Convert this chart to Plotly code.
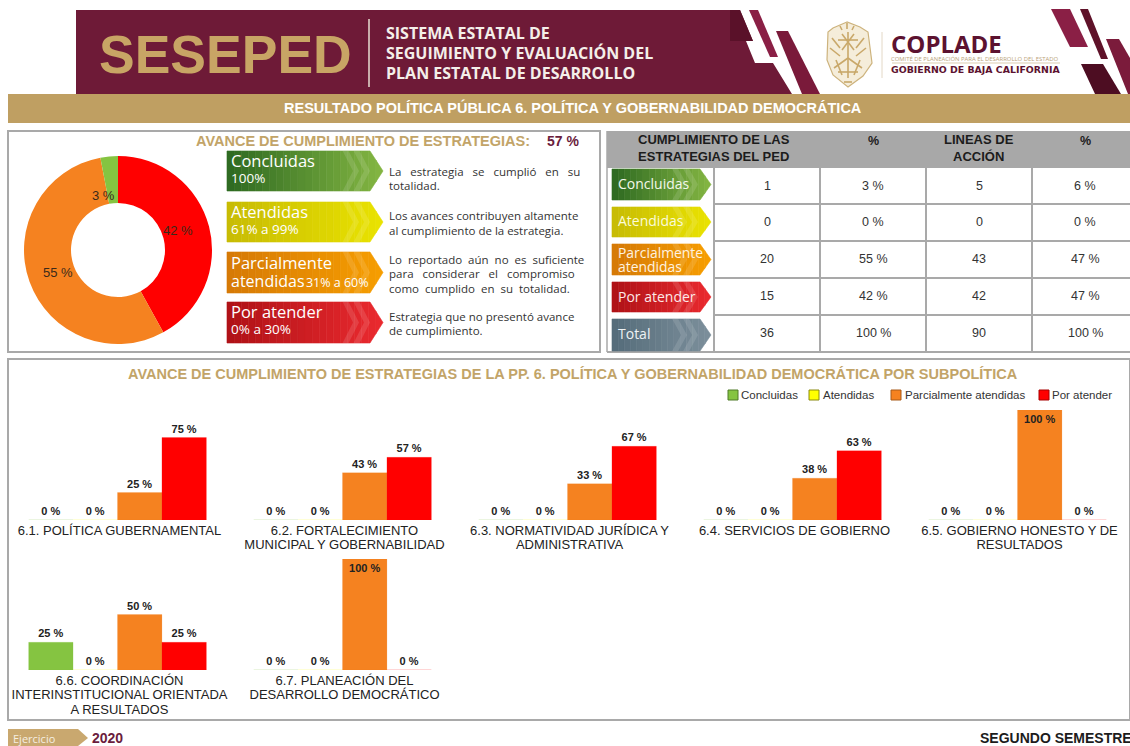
import plotly.graph_objects as go

W, H = 1130, 746

# ---------- data ----------
estado = ["Concluidas", "Atendidas", "Parcialmente atendidas", "Por atender"]
colores = ["#85c441", "#ffff00", "#f58220", "#ff0000"]
bordes = ["#4f7a28", "#8a8a10", "#a85a18", "#a80000"]

donut_labels = ["Por atender", "Parcialmente atendidas", "Concluidas"]
donut_values = [42, 55, 3]
donut_colors = ["#ff0000", "#f58220", "#85c441"]

sub_fila1 = ["6.1. POLÍTICA GUBERNAMENTAL",
             "6.2. FORTALECIMIENTO<br>MUNICIPAL Y GOBERNABILIDAD",
             "6.3. NORMATIVIDAD JURÍDICA Y<br>ADMINISTRATIVA",
             "6.4. SERVICIOS DE GOBIERNO",
             "6.5. GOBIERNO HONESTO Y DE<br>RESULTADOS"]
concluidas_1 = [0, 0, 0, 0, 0]
atendidas_1 = [0, 0, 0, 0, 0]
parciales_1 = [25, 43, 33, 38, 100]
por_atender_1 = [75, 57, 67, 63, 0]

sub_fila2 = ["6.6. COORDINACIÓN<br>INTERINSTITUCIONAL ORIENTADA<br>A RESULTADOS",
             "6.7. PLANEACIÓN DEL<br>DESARROLLO DEMOCRÁTICO"]
concluidas_2 = [25, 0]
atendidas_2 = [0, 0]
parciales_2 = [50, 100]
por_atender_2 = [25, 0]

tabla_estrategias = ["1", "0", "20", "15", "36"]
tabla_pct_estrategias = ["3 %", "0 %", "55 %", "42 %", "100 %"]
tabla_lineas = ["5", "0", "43", "42", "90"]
tabla_pct_lineas = ["6 %", "0 %", "47 %", "47 %", "100 %"]

# ---------- helpers ----------
def px(x): return x / W
def py(y): return 1 - y / H

shapes, annots = [], []

def poly(pts, fill, line=None, lw=0, opacity=1):
    d = "M " + " L ".join(f"{px(a):.5f},{py(b):.5f}" for a, b in pts) + " Z"
    shapes.append(dict(type="path", path=d, xref="paper", yref="paper", fillcolor=fill,
                       opacity=opacity, layer="below",
                       line=dict(color=line or fill, width=lw)))

def rect(x0, y0, x1, y1, fill="rgba(0,0,0,0)", line=None, lw=0):
    shapes.append(dict(type="rect", xref="paper", yref="paper", x0=px(x0), x1=px(x1),
                       y0=py(y1), y1=py(y0), fillcolor=fill, layer="below",
                       line=dict(color=line or "rgba(0,0,0,0)", width=lw)))

def seg(x0, y0, x1, y1, color, lw):
    shapes.append(dict(type="line", xref="paper", yref="paper", x0=px(x0), x1=px(x1),
                       y0=py(y0), y1=py(y1), layer="below", line=dict(color=color, width=lw)))

def T(x, y, text, size=12, color="#222", family="Liberation Sans", anchor="left"):
    annots.append(dict(x=px(x), y=py(y), xref="paper", yref="paper", text=text, showarrow=False,
                       xanchor=anchor, yanchor="middle", align="center" if anchor == "center" else "left",
                       font=dict(size=size, color=color, family=family), borderpad=0, borderwidth=0))

def mix(c0, c1, t):
    a = [int(c0[i:i + 2], 16) for i in (1, 3, 5)]
    b = [int(c1[i:i + 2], 16) for i in (1, 3, 5)]
    return "#" + "".join(f"{round(p + (q - p) * t):02x}" for p, q in zip(a, b))

def alpha(c, a):
    r, g, b = [int(c[i:i + 2], 16) for i in (1, 3, 5)]
    return f"rgba({r},{g},{b},{a})"

def arrow(x0, y0, xb, xt, y1, c0, c1, n=22):
    ym = (y0 + y1) / 2
    def top(x): return y0 if x <= xb else y0 + (x - xb) / (xt - xb) * (ym - y0)
    def bot(x): return y1 if x <= xb else y1 - (x - xb) / (xt - xb) * (y1 - ym)
    for i in range(n):
        a = x0 + (xt - x0) * i / n
        b = x0 + (xt - x0) * (i + 1) / n
        pts = [(a, top(a)), (b, top(b))]
        if a < xb < b:
            pts = [(a, top(a)), (xb, y0), (b, top(b)), (b, bot(b)), (xb, y1), (a, bot(a))]
        else:
            pts += [(b, bot(b)), (a, bot(a))]
        c = mix(c0, c1, i / (n - 1))
        poly(pts, c, line=c, lw=0.6)
    for off, op in ((30, 0.12), (19, 0.12)):
        w = 6
        xc = xb - off + (xt - xb) * 0.2
        poly([(xc, y0), (xc + w, y0), (xc + w + (xt - xb) * 0.8, ym), (xc + w, y1), (xc, y1),
              (xc + (xt - xb) * 0.8, ym)], "#ffffff", opacity=op)

def big(s, size):
    return f"<span style='font-size:{size}px'>{s}</span>"

def etiqueta(s, size=13):
    return "<br>".join(big(line, size) for line in s.split("<br>"))

GOLD = "#bf9f62"
MAROON = "#6e1a37"
SANS = "Open Sans"
NB = "\u00a0"

# ---------- banner ----------
poly([(76, 10), (740, 10), (753, 41), (746, 41), (755, 63), (773, 63), (792, 94), (76, 94)], MAROON)
poly([(730, 10), (740, 10), (753, 41), (730, 41)], "#5a1129")
poly([(749, 10), (758, 10), (778, 57), (770, 57)], "#8a1f45")
poly([(776, 31), (788, 31), (820, 94), (802, 94)], "#7a1a3a")
poly([(1051, 9), (1070, 9), (1088, 47), (1070, 47)], "#8a1f45")
poly([(1080, 9), (1088, 9), (1108, 59), (1101, 59)], "#5f1229")
poly([(1106, 39), (1119, 39), (1130, 58), (1130, 94), (1128, 94)], "#7b1b3b")
poly([(1081, 64), (1103, 64), (1121, 94), (1095, 94)], "#4d0d22")
seg(369, 19, 369, 87, "#e9dfd3", 1.5)
T(99, 54, "<b>SESEPED</b>", 53.5, "#c8a565", "Liberation Sans")
for yy, s in zip((33, 53, 73), ("SISTEMA ESTATAL DE", "SEGUIMIENTO Y EVALUACIÓN DEL", "PLAN ESTATAL DE DESARROLLO")):
    T(386, yy, f"<b>{s}</b>", 16, "#f4efe9", SANS)

# coat of arms (simplified)
poly([(847, 22), (833, 28), (828, 32), (827, 60), (833, 75), (848, 87), (863, 76), (872, 63), (868, 32), (860, 27)],
     "#f5edda", line="#cdb37d", lw=1.2)
for a, b, c, d in [(848, 32, 848, 60), (838, 40, 858, 40), (842, 34, 854, 50), (854, 34, 842, 50),
                   (834, 68, 848, 58), (862, 68, 848, 58), (848, 60, 848, 78), (832, 38, 840, 48),
                   (864, 38, 856, 48), (836, 60, 842, 75), (860, 60, 854, 75), (840, 26, 842, 30),
                   (847, 23, 847, 29), (854, 26, 852, 30), (830, 48, 840, 56), (866, 48, 856, 56),
                   (838, 72, 858, 72), (844, 82, 852, 82)]:
    seg(a, b, c, d, "#c9a86a", 1.6)
seg(882, 32, 882, 78, "#e3d8c6", 1)
T(891, 45, big("<b>COPLADE</b>", 24) + "<br><span style='color:#b9a27a'>COMITÉ DE PLANEACIÓN PARA EL DESARROLLO DEL ESTADO</span>",
  5.9, "#5c1230", SANS)
seg(892, 63, 1060, 63, "#cdb98f", 0.7)
T(891, 69.5, "<b>GOBIERNO DE BAJA CALIFORNIA</b>", 9.4, "#5c1230", "DejaVu Sans")

# ---------- title bar ----------
rect(8, 94, 1130, 123, GOLD)
T(572.5, 108, "<b>RESULTADO POLÍTICA PÚBLICA 6. POLÍTICA Y GOBERNABILIDAD DEMOCRÁTICA</b>", 14.5, "#ffffff",
  anchor="center")

# ---------- left panel ----------
rect(8, 131, 600, 352, "#ffffff", "#a9a9a9", 2)
T(196, 141, "<b>AVANCE DE CUMPLIMIENTO DE ESTRATEGIAS:</b>", 14.5, "#c2a468")
T(547, 141, "<b>57 %</b>", 14, "#6b1d3d")

arrow(227, 151, 370, 383, 191, "#2f6b22", "#82b441")
arrow(227, 202, 370, 383, 242, "#c8bc04", "#e9e200")
arrow(227, 252, 370, 383, 293, "#d67a06", "#f69d00")
arrow(227, 302, 370, 383, 343, "#b01217", "#e9292e")

T(231, 168, big("Concluidas", 16.5) + "<br>" + big("100%", 13.5), 12, "#ffffff", SANS)
T(231, 219, big("Atendidas", 16.5) + "<br>" + big("61% a 99%", 13.5), 12, "#ffffff", SANS)
T(231, 271.5, big("Parcialmente", 16.5) + "<br>" + big("atendidas", 16) + "\u200a" + big("31% a 60%", 12.5), 13.5,
  "#ffffff", SANS)
T(231, 319, big("Por atender", 16.5) + "<br>" + big("0% a 30%", 13.5), 12, "#ffffff", SANS)

def sp(s, n):
    return s.replace(" ", " " + NB * n)

desc = [(172, sp("La estrategia se cumplió en su", 2)), (186, "totalidad."),
        (215, "Los avances contribuyen altamente"), (230, "al cumplimiento de la estrategia."),
        (259, sp("Lo reportado aún no es suficiente", 1)), (273, sp("para considerar el compromiso", 2)),
        (288, sp("como cumplido en su totalidad.", 1)),
        (316, "Estrategia que no presentó avance"), (330, "de cumplimiento.")]
for yy, s in desc:
    T(389, yy, s, 11.5, "#333333", SANS)

for (xx, yy), v in zip([(178, 230), (58, 272), (103, 196)], donut_values):
    T(xx, yy, f"{v} %", 13, "#3a2a1a", anchor="center")

# ---------- table ----------
rect(607, 131, 1130, 168, "#a8a8a8")
T(714, 148, "<b>CUMPLIMIENTO DE LAS<br>ESTRATEGIAS DEL PED</b>", 13, "#1c1c1c", anchor="center")
T(873, 141, "<b>%</b>", 12.5, "#1c1c1c", anchor="center")
T(979, 148, "<b>LINEAS DE<br>ACCIÓN</b>", 13, "#1c1c1c", anchor="center")
T(1085, 141, "<b>%</b>", 12.5, "#1c1c1c", anchor="center")
for yy in (204, 241, 278, 315, 352):
    seg(713, yy, 1130, yy, "#a9a9a9", 2)
seg(607, 352, 713, 352, "#a9a9a9", 2)
for xx in (714, 820, 926, 1032):
    seg(xx, 168, xx, 352, "#a9a9a9", 2)
seg(607, 131, 607, 352, "#a9a9a9", 1.5)

arrow(612, 169, 700, 711, 200, "#2f6b22", "#82b441", 16)
arrow(612, 207, 700, 711, 237, "#c8bc04", "#e9e200", 16)
arrow(612, 244, 700, 711, 275, "#d67a06", "#f69d00", 16)
arrow(612, 282, 700, 711, 312, "#b01217", "#e9292e", 16)
arrow(612, 319, 700, 711, 351, "#566d7b", "#7b8e9a", 16)
T(618, 184, "Concluidas", 14, "#f2f8ea", SANS)
T(618, 221, "Atendidas", 14, "#fbfbd8", SANS)
T(618, 259, big("Parcialmente", 13.9) + "<br>" + big("atendidas", 13.9), 10.8, "#fff3e0", SANS)
T(618, 296, "Por atender", 14, "#fde8e8", SANS)
T(618, 333, "Total", 14, "#eef2f4", SANS)

for i, yy in enumerate((186, 222, 259, 296, 333)):
    T(767, yy, tabla_estrategias[i], 12.5, "#333", anchor="center")
    T(873, yy, tabla_pct_estrategias[i], 12.5, "#333", anchor="center")
    T(979, yy, tabla_lineas[i], 12.5, "#333", anchor="center")
    T(1085, yy, tabla_pct_lineas[i], 12.5, "#333", anchor="center")

# ---------- lower panel ----------
rect(8, 359, 1130, 720, "#ffffff", "#a9a9a9", 2)
T(572.5, 374, "<b>AVANCE DE CUMPLIMIENTO DE ESTRATEGIAS DE LA PP. 6. POLÍTICA Y GOBERNABILIDAD DEMOCRÁTICA POR SUBPOLÍTICA</b>",
  14.5, "#c2a468", anchor="center")

# legend key
for xs, xt, name, col, bd in zip((728, 809, 891, 1039), (741, 823, 905, 1052), estado, colores, bordes):
    rect(xs, 390, xs + 10, 400, col, bd, 1)
    T(xt, 395, name, 11.5, "#333")

# ---------- footer ----------
poly([(8, 729), (78, 729), (88, 738), (78, 746), (8, 746)], "#c9a86f")
T(13, 738, "Ejercicio", 11, "#f6efe2", SANS)
T(92, 738, "<b>2020</b>", 14, "#6b1d3d")
T(980, 738, "<b>SEGUNDO SEMESTRE</b>", 14, "#1c1c1c")

# ---------- traces ----------
fig = go.Figure()
fig.add_trace(go.Pie(labels=donut_labels, values=donut_values, hole=0.5, sort=False, direction="clockwise",
                     rotation=0, marker=dict(colors=donut_colors, line=dict(width=0)), textinfo="none",
                     showlegend=False,
                     domain=dict(x=[px(24), px(212)], y=[py(344), py(156)])))

def barras(xs, series, xa, ya):
    for name, col, vals in zip(estado, colores, series):
        fig.add_trace(go.Bar(
            x=xs, y=vals, name=name, xaxis=xa, yaxis=ya, showlegend=False,
            marker=dict(color=col, line=dict(color=alpha(col, 0.33), width=0.5)),
            text=[f"<b>{v} %</b>" for v in vals],
            textposition=["inside" if v == 100 else "outside" for v in vals],
            insidetextanchor="end", textangle=0, constraintext="none",
            textfont=dict(size=11, color="#222", family="Liberation Sans"),
            cliponaxis=False))

barras(sub_fila1, [concluidas_1, atendidas_1, parciales_1, por_atender_1], "x", "y")
barras(sub_fila2, [concluidas_2, atendidas_2, parciales_2, por_atender_2], "x2", "y2")

tick = dict(tickfont=dict(size=11.5, color="#222", family="Liberation Sans"), showgrid=False, zeroline=False,
            showline=False, ticks="", type="category", range=[-0.5, 4.5], automargin=False, fixedrange=True,
            ticklabelshift=2, ticklabelstandoff=2, tickmode="array")
yax = dict(range=[0, 100], visible=False, fixedrange=True)

fig.update_layout(
    width=W, height=H, autosize=False, margin=dict(l=0, r=0, t=0, b=0, pad=0),
    paper_bgcolor="#ffffff", plot_bgcolor="rgba(0,0,0,0)",
    barmode="group", bargap=0.21, bargroupgap=0, showlegend=False,
    shapes=shapes, annotations=annots,
    xaxis=dict(domain=[px(5), px(1130)], anchor="y", categoryorder="array", categoryarray=sub_fila1,
               tickvals=sub_fila1, ticktext=[etiqueta(s) for s in sub_fila1], **tick),
    yaxis=dict(domain=[py(520), py(410)], anchor="x", **yax),
    xaxis2=dict(domain=[px(5), px(1130)], anchor="y2", categoryorder="array", categoryarray=sub_fila2,
                tickvals=sub_fila2, ticktext=[etiqueta(s) for s in sub_fila2], **tick),
    yaxis2=dict(domain=[py(670), py(559)], anchor="x2", **yax),
    font=dict(family="Liberation Sans"),
)

fig.write_html("out.html", config=dict(displayModeBar=False, responsive=False),
               post_script="document.body.style.margin='0';document.body.style.overflow='hidden';")
